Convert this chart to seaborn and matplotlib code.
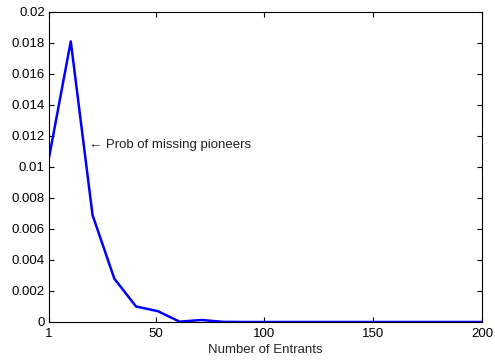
import numpy as np
import pandas as pd
import matplotlib
matplotlib.use("Agg")
import matplotlib.pyplot as plt
import seaborn as sns

# Number of entrants (step of 10) and probability of missing pioneers
entrants = [1, 11, 21, 31, 41, 51, 61, 71, 81, 91, 101, 111, 121, 131, 141,
            151, 161, 171, 181, 191, 200]
prob_missing = [0.0106, 0.0181, 0.0069, 0.0028, 0.0010, 0.0007, 0.00002,
                0.00013, 0.00001, 0.0, 0.0, 0.0, 0.0, 0.0, 0.0,
                0.0, 0.0, 0.0, 0.0, 0.0, 0.0]
x_ticks = [1, 50, 100, 150, 200]
y_ticks = [0, 0.002, 0.004, 0.006, 0.008, 0.01, 0.012, 0.014, 0.016, 0.018, 0.02]
y_tick_labels = ["0", "0.002", "0.004", "0.006", "0.008", "0.01", "0.012",
                 "0.014", "0.016", "0.018", "0.02"]

df = pd.DataFrame({"entrants": entrants, "prob": prob_missing})

sns.set_style("white")
plt.rcParams["font.family"] = ["Liberation Sans", "DejaVu Sans"]
plt.rcParams["font.size"] = 9.5

fig = plt.figure(figsize=(4.95, 3.62), dpi=100)
ax = fig.add_axes([0.099, 0.1105, 0.875, 0.8565])

sns.lineplot(data=df, x="entrants", y="prob", ax=ax, color="#0000ff",
             linewidth=1.8, zorder=2)

ax.set_xlim(1, 200)
ax.set_ylim(0, 0.02)
ax.set_xticks(x_ticks)
ax.set_xticklabels([str(t) for t in x_ticks])
ax.set_yticks(y_ticks)
ax.set_yticklabels(y_tick_labels)
ax.set_xlabel("Number of Entrants", fontsize=9.5, labelpad=3.5)
ax.set_ylabel("")

ax.tick_params(direction="in", length=3.5, width=0.8, top=True, right=True,
               bottom=True, left=True, labelsize=9.5, colors="black")
ax.tick_params(axis="x", pad=4)
ax.tick_params(axis="y", pad=3)
for s in ax.spines.values():
    s.set_visible(True)
    s.set_color("black")
    s.set_linewidth(0.8)

ax.text(19.3, 0.01142, "\u2190 Prob of missing pioneers", fontsize=9.5,
        va="center", ha="left", color="#222222",
        family=["Liberation Sans", "DejaVu Sans"],
        bbox=dict(facecolor="white", edgecolor="none", pad=0.8), zorder=3)

fig.savefig("out.png", dpi=100)
